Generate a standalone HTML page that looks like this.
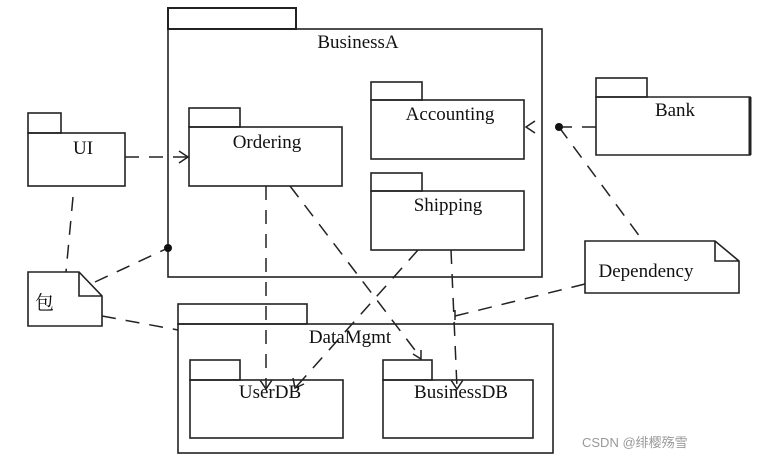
<!DOCTYPE html>
<html><head><meta charset="utf-8"><style>
html,body{margin:0;padding:0;background:#fff;}
svg{display:block;}
text{font-family:"Liberation Serif","Noto Serif CJK SC",serif;font-size:19px;fill:#111;}
</style></head><body>
<svg width="759" height="461" viewBox="0 0 759 461" xmlns="http://www.w3.org/2000/svg">
<g fill="none" stroke="#222" stroke-width="1.6">
<rect x="168" y="8" width="128" height="21" stroke-width="2"/>
<rect x="168" y="29" width="374" height="248"/>
<rect x="28" y="113" width="33" height="20"/>
<rect x="28" y="133" width="97" height="53"/>
<rect x="189" y="108" width="51" height="19"/>
<rect x="189" y="127" width="153" height="59"/>
<rect x="371" y="82" width="51" height="18"/>
<rect x="371" y="100" width="153" height="59"/>
<rect x="371" y="173" width="51" height="18"/>
<rect x="371" y="191" width="153" height="59"/>
<rect x="596" y="78" width="51" height="19"/>
<path d="M596 97 H750 V155 H596 Z"/>
<line x1="750" y1="97" x2="750" y2="155" stroke-width="3"/>
<path d="M585 241 H715 L739 261 V293 H585 Z M715 241 V261 H739"/>
<path d="M28 272 H79 L102 296 V326 H28 Z M79 272 V296 H102"/>
<rect x="178" y="304" width="129" height="20"/>
<rect x="178" y="324" width="375" height="129"/>
<rect x="190" y="360" width="50" height="20"/>
<rect x="190" y="380" width="153" height="58"/>
<rect x="383" y="360" width="49" height="20"/>
<rect x="383" y="380" width="150" height="58"/>
</g>
<g fill="none" stroke="#222" stroke-width="1.5" stroke-dasharray="14,10">
<line x1="125" y1="157" x2="187" y2="157"/>
<line x1="596" y1="127" x2="559" y2="127"/>
<line x1="559" y1="127" x2="643" y2="241"/>
<line x1="73" y1="197" x2="66" y2="272"/>
<line x1="95" y1="282" x2="168" y2="248"/>
<line x1="102" y1="316" x2="178" y2="330"/>
<line x1="266" y1="186" x2="266" y2="388"/>
<line x1="290" y1="186" x2="421" y2="358"/>
<line x1="418" y1="250" x2="296" y2="387"/>
<line x1="451" y1="250" x2="457" y2="388"/>
<line x1="585" y1="284" x2="455" y2="316"/>
</g>
<g fill="none" stroke="#222" stroke-width="1.5">
<path d="M179 151 L188 157 L179 163"/>
<path d="M535 121 L526 127 L535 133"/>
<path d="M260 380 L266 389 L272 380"/>
<path d="M293 378 L295 388 L304 384"/>
<path d="M451 380 L457 389 L463 380"/>
<path d="M413 354 L421 359 L421 350"/>
<line x1="455" y1="310" x2="455" y2="320"/>
</g>
<circle cx="559" cy="127" r="4" fill="#111"/>
<circle cx="168" cy="248" r="4" fill="#111"/>
<text x="358" y="48" text-anchor="middle">BusinessA</text>
<text x="83" y="154" text-anchor="middle">UI</text>
<text x="267" y="148" text-anchor="middle">Ordering</text>
<text x="450" y="120" text-anchor="middle">Accounting</text>
<text x="448" y="211" text-anchor="middle">Shipping</text>
<text x="675" y="116" text-anchor="middle">Bank</text>
<text x="646" y="277" text-anchor="middle">Dependency</text>
<text x="35" y="309">包</text>
<text x="350" y="343" text-anchor="middle">DataMgmt</text>
<text x="270" y="398" text-anchor="middle">UserDB</text>
<text x="461" y="398" text-anchor="middle">BusinessDB</text>
<text x="582" y="447" style="font-family:'Liberation Sans','Noto Sans CJK SC',sans-serif;font-size:13px;fill:#999;">CSDN @绯樱殇雪</text>
</svg>
</body></html>
